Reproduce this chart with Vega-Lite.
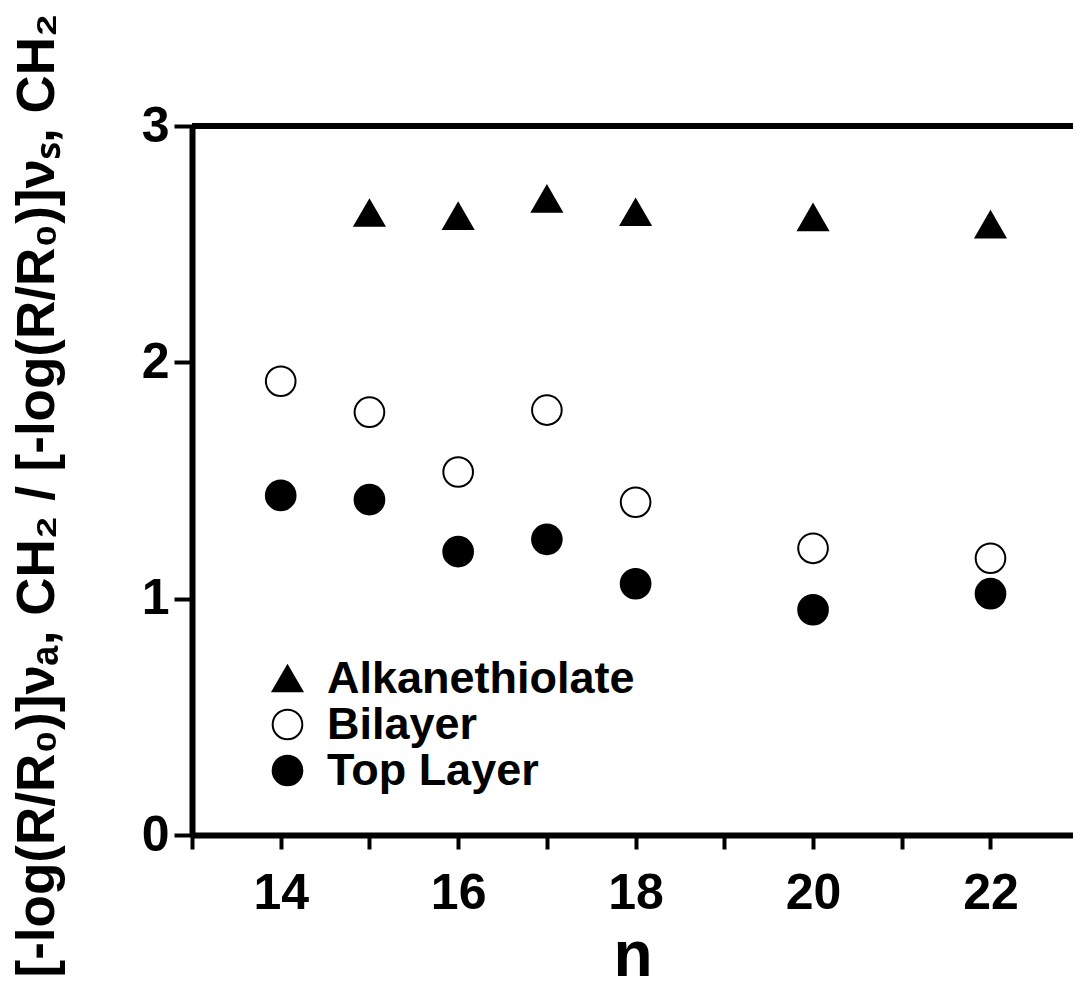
{
  "$schema": "https://vega.github.io/schema/vega-lite/v6.json",
  "width": 881,
  "height": 709,
  "autosize": {"type": "none"},
  "padding": {"left": 192, "top": 126, "right": 0, "bottom": 155},
  "background": "white",
  "config": {
    "view": {"stroke": null},
    "font": "Liberation Sans",
    "axis": {"grid": false, "domainColor": "black", "tickColor": "black", "labelColor": "black", "titleColor": "black", "labelFont": "Liberation Sans", "titleFont": "Liberation Sans", "labelFontWeight": "bold", "titleFontWeight": "bold"},
    "legend": {"labelFont": "Liberation Sans", "labelColor": "black", "symbolStrokeColor": "black", "symbolStrokeWidth": 2, "labelLimit": 0}
  },
  "data": {
    "values": [
      {"n": 15, "ratio": 2.632, "series": "Alkanethiolate"},
      {"n": 16, "ratio": 2.619, "series": "Alkanethiolate"},
      {"n": 17, "ratio": 2.692, "series": "Alkanethiolate"},
      {"n": 18, "ratio": 2.635, "series": "Alkanethiolate"},
      {"n": 20, "ratio": 2.613, "series": "Alkanethiolate"},
      {"n": 22, "ratio": 2.583, "series": "Alkanethiolate"},
      {"n": 14, "ratio": 1.92, "series": "Bilayer"},
      {"n": 15, "ratio": 1.789, "series": "Bilayer"},
      {"n": 16, "ratio": 1.536, "series": "Bilayer"},
      {"n": 17, "ratio": 1.798, "series": "Bilayer"},
      {"n": 18, "ratio": 1.408, "series": "Bilayer"},
      {"n": 20, "ratio": 1.213, "series": "Bilayer"},
      {"n": 22, "ratio": 1.171, "series": "Bilayer"},
      {"n": 14, "ratio": 1.437, "series": "Top Layer"},
      {"n": 15, "ratio": 1.419, "series": "Top Layer"},
      {"n": 16, "ratio": 1.199, "series": "Top Layer"},
      {"n": 17, "ratio": 1.251, "series": "Top Layer"},
      {"n": 18, "ratio": 1.063, "series": "Top Layer"},
      {"n": 20, "ratio": 0.953, "series": "Top Layer"},
      {"n": 22, "ratio": 1.021, "series": "Top Layer"}
    ]
  },
  "layer": [
    {
      "mark": {"type": "point", "filled": true, "strokeWidth": 2, "size": 880, "opacity": 1},
      "encoding": {
        "x": {
          "field": "n", "type": "quantitative",
          "scale": {"domain": [13, 22.93], "nice": false, "zero": false},
          "axis": {
            "values": [13, 14, 15, 16, 17, 18, 19, 20, 21, 22],
            "labelExpr": "datum.value % 2 == 0 ? datum.label : ''",
            "domainWidth": 6, "tickWidth": 4, "tickSize": 14,
            "labelFontSize": 50, "labelPadding": 19, "labelFlush": false, "labelOverlap": false,
            "title": "n", "titleFontSize": 64, "titlePadding": 6
          }
        },
        "y": {
          "field": "ratio", "type": "quantitative",
          "scale": {"domain": [0, 3], "nice": false, "zero": false},
          "axis": {
            "values": [0, 1, 2, 3],
            "format": "d",
            "domainWidth": 6, "tickWidth": 4, "tickSize": 18,
            "labelFontSize": 50, "labelPadding": 5, "labelFlush": false,
            "title": "[-log(R/R₀)]νₐ, CH₂ / [-log(R/R₀)]νₛ, CH₂",
            "titleFontSize": 53, "titleX": -128, "titleY": 369, "titleAlign": "center"
          }
        },
        "shape": {
          "field": "series", "type": "nominal",
          "scale": {"domain": ["Alkanethiolate", "Bilayer", "Top Layer"], "range": ["triangle-up", "circle", "circle"]},
          "legend": {"title": null, "orient": "none", "legendX": 73, "legendY": 530, "labelFontSize": 45, "labelFontWeight": "bold", "labelLimit": 0, "symbolSize": 880, "symbolStrokeWidth": 2, "symbolStrokeColor": "black", "rowPadding": 0, "labelOffset": 17, "padding": 0}
        },
        "fill": {
          "field": "series", "type": "nominal",
          "scale": {"domain": ["Alkanethiolate", "Bilayer", "Top Layer"], "range": ["black", "white", "black"]},
          "legend": {"title": null, "orient": "none", "legendX": 73, "legendY": 530, "labelFontSize": 45, "labelFontWeight": "bold", "labelLimit": 0, "symbolSize": 880, "symbolStrokeWidth": 2, "symbolStrokeColor": "black", "rowPadding": 0, "labelOffset": 17, "padding": 0}
        },
        "stroke": {
          "field": "series", "type": "nominal",
          "scale": {"domain": ["Alkanethiolate", "Bilayer", "Top Layer"], "range": ["black", "black", "black"]},
          "legend": {"title": null, "orient": "none", "legendX": 73, "legendY": 530, "labelFontSize": 45, "labelFontWeight": "bold", "labelLimit": 0, "symbolSize": 880, "symbolStrokeWidth": 2, "symbolStrokeColor": "black", "rowPadding": 0, "labelOffset": 17, "padding": 0}
        }
      }
    },
    {
      "mark": {"type": "rule", "strokeWidth": 6, "color": "black"},
      "encoding": {"y": {"datum": 3, "type": "quantitative"}}
    }
  ]
}
